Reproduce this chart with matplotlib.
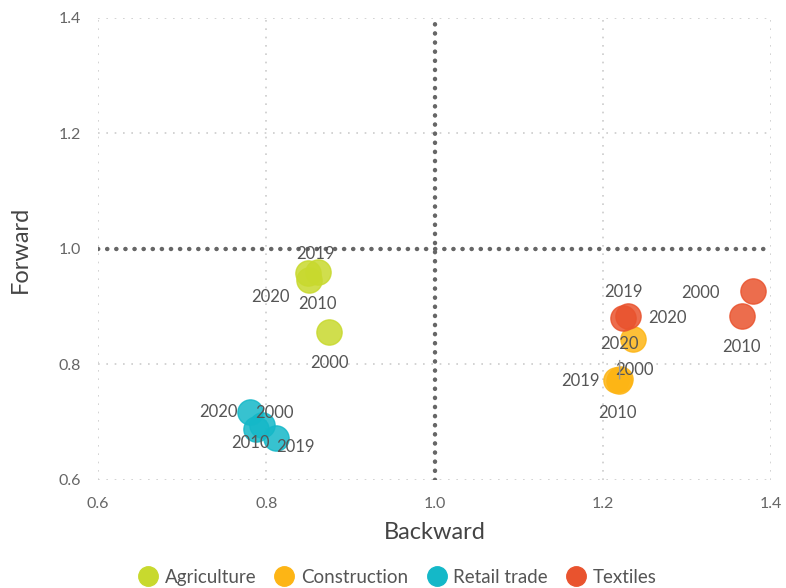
import matplotlib.pyplot as plt
from matplotlib.lines import Line2D

plt.rcParams['font.family'] = ['Lato', 'DejaVu Sans']

sectors = ['Agriculture', 'Construction', 'Retail trade', 'Textiles']
colors = ['#c8d92e', '#fdb515', '#14b8c8', '#e9532e']
years = ['2000', '2010', '2019', '2020']

# backward / forward values per sector, in the order of years
backward = {
    'Agriculture':  [0.875, 0.851, 0.862, 0.849],
    'Construction': [1.236, 1.219, 1.216, 1.220],
    'Retail trade': [0.795, 0.788, 0.812, 0.781],
    'Textiles':     [1.379, 1.365, 1.230, 1.224],
}
forward = {
    'Agriculture':  [0.856, 0.946, 0.960, 0.958],
    'Construction': [0.844, 0.771, 0.773, 0.775],
    'Retail trade': [0.696, 0.688, 0.672, 0.717],
    'Textiles':     [0.927, 0.884, 0.884, 0.880],
}

# label offsets in points (dx, dy), year order as above
offsets = {
    'Agriculture':  [(0, -22), (6, -17), (-2, 13), (-27, -17)],
    'Construction': [(1, -22), (-1, -23), (-26, -1), (0, 25)],
    'Retail trade': [(9, 8), (-4, -10), (14, -6), (-23, 0)],
    'Textiles':     [(-38, -1), (0, -22), (-3, 17), (32, 0)],
}

fig = plt.figure(figsize=(7.86, 5.88), dpi=100)
ax = fig.add_axes([0.1247, 0.1837, 0.8563, 0.7857])

for sec, col in zip(sectors, colors):
    ax.scatter(backward[sec], forward[sec], s=330, color=col, alpha=0.85,
               edgecolors=col, linewidths=1, zorder=3)
    for i, yr in enumerate(years):
        dx, dy = offsets[sec][i]
        if sec == 'Construction' and yr == '2020':
            ax.annotate(yr, (backward[sec][i], forward[sec][i]), xytext=(dx, dy),
                        textcoords='offset points', ha='center', va='center',
                        fontsize=12, color='#555555', zorder=4,
                        arrowprops=dict(arrowstyle='-', color='#999999', lw=1,
                                        shrinkA=4, shrinkB=0))
        else:
            ax.annotate(yr, (backward[sec][i], forward[sec][i]), xytext=(dx, dy),
                        textcoords='offset points', ha='center', va='center',
                        fontsize=12, color='#555555', zorder=4)

ax.axvline(1.0, color='#666666', lw=3.2, ls=(0, (0.05, 2)), dash_capstyle='round', zorder=2)
ax.axhline(1.0, color='#666666', lw=3.2, ls=(0, (0.05, 2)), dash_capstyle='round', zorder=2)

ax.set_xlim(0.6, 1.4)
ax.set_ylim(0.6, 1.4)
ticks = [0.6, 0.8, 1.0, 1.2, 1.4]
ax.set_xticks(ticks)
ax.set_yticks(ticks)
ax.set_xticklabels(['0.6', '0.8', '1.0', '1.2', '1.4'])
ax.set_yticklabels(['0.6', '0.8', '1.0', '1.2', '1.4'])
ax.tick_params(length=0, labelsize=11.5, labelcolor='#666666', pad=12)
for t in [0.6, 0.8, 1.2, 1.4]:
    ax.axvline(t, color='#cccccc', lw=1.2, ls=(0, (1, 4)), zorder=1)
    ax.axhline(t, color='#cccccc', lw=1.2, ls=(0, (1, 4)), zorder=1)
for s in ax.spines.values():
    s.set_visible(False)

ax.set_xlabel('Backward', fontsize=17, color='#444444', labelpad=8)
ax.set_ylabel('Forward', fontsize=17, color='#444444', labelpad=20)

handles = [Line2D([], [], marker='o', ls='', markersize=14, color=c) for c in colors]
fig.legend(handles, sectors, loc='lower center', bbox_to_anchor=(0.5, -0.025), ncol=4,
           frameon=False, fontsize=13.5, handletextpad=-0.1, columnspacing=0.5,
           labelcolor='#555555')

fig.savefig('out.png', dpi=100)
